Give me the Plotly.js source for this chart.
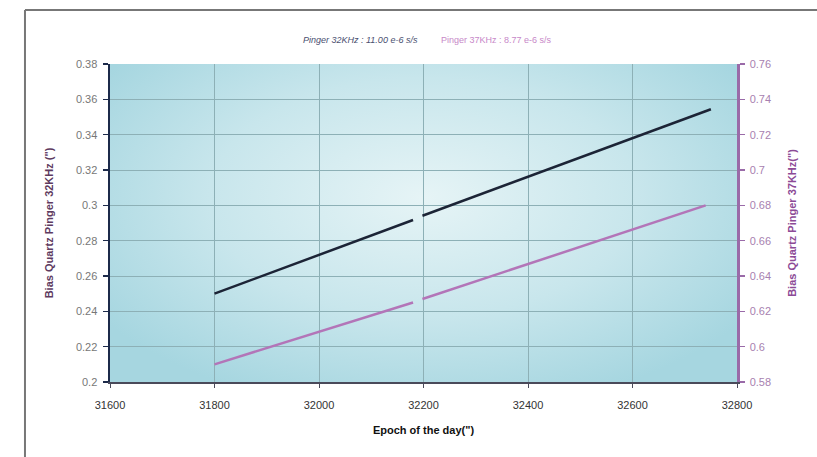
<!DOCTYPE html>
<html>
<head>
<meta charset="utf-8">
<script src="https://cdn.plot.ly/plotly-3.0.1.min.js"></script>
<style>html,body{margin:0;padding:0;background:#fff;}#chart{width:817px;height:457px;}</style>
</head>
<body>
<div id="chart"></div>
<script>
// ---- data ----
const epoch32 = [31800, 32180, null, 32198, 32750];
const bias32  = [0.250, 0.2917, null, 0.2941, 0.3544];
const epoch37 = [31800, 32180, null, 32198, 32740];
const bias37  = [0.590, 0.625, null, 0.627, 0.680];

const xTicks     = [31600, 31800, 32000, 32200, 32400, 32600, 32800];
const leftTicks  = [0.2, 0.22, 0.24, 0.26, 0.28, 0.3, 0.32, 0.34, 0.36, 0.38];
const leftLabels = ['0.2','0.22','0.24','0.26','0.28','0.3','0.32','0.34','0.36','0.38'];
const rightTicks  = [0.58, 0.6, 0.62, 0.64, 0.66, 0.68, 0.7, 0.72, 0.74, 0.76];
const rightLabels = ['0.58','0.6','0.62','0.64','0.66','0.68','0.7','0.72','0.74','0.76'];

const legend32 = 'Pinger 32KHz : 11.00 e-6 s/s';
const legend37 = 'Pinger 37KHz : 8.77 e-6 s/s';
const xTitle = 'Epoch of the day(")';
const yTitle = 'Bias Quartz Pinger 32KHz (")';
const y2Title = 'Bias Quartz Pinger 37KHz(")';

const FONT = 'Liberation Sans, Arial, sans-serif';

const bgSvg = '<svg xmlns="http://www.w3.org/2000/svg" width="600" height="300" preserveAspectRatio="none">' +
  '<defs><radialGradient id="g" cx="0.5" cy="0.42" r="0.62" gradientTransform="translate(0.5 0.42) scale(1 1.1) translate(-0.5 -0.42)">' +
  '<stop offset="0" stop-color="#e6f4f6"/><stop offset="0.55" stop-color="#c8e6ec"/><stop offset="1" stop-color="#a6d6e0"/>' +
  '</radialGradient></defs><rect width="600" height="300" fill="url(#g)"/></svg>';
const bgUri = 'data:image/svg+xml;base64,' + btoa(bgSvg);

const traces = [
  {x: epoch32, y: bias32, type: 'scatter', mode: 'lines', name: legend32,
   line: {color: '#1c2436', width: 2.5}, connectgaps: false, yaxis: 'y'},
  {x: epoch37, y: bias37, type: 'scatter', mode: 'lines', name: legend37,
   line: {color: '#b375b8', width: 2.5}, connectgaps: false, yaxis: 'y2'}
];

const layout = {
  width: 817, height: 457,
  margin: {l: 110, r: 80, t: 64, b: 75},
  paper_bgcolor: '#ffffff',
  plot_bgcolor: '#bfe2e9',
  showlegend: false,
  font: {family: FONT, size: 10, color: '#555'},
  xaxis: {
    range: [31600, 32800], tickmode: 'array', tickvals: xTicks,
    ticktext: xTicks.map(String),
    showgrid: true, gridcolor: '#8db0b6', gridwidth: 1,
    showline: true, linecolor: '#4a4a5a', linewidth: 1.5,
    ticks: 'outside', ticklen: 4, tickcolor: '#4a4a5a',
    ticklabelstandoff: 8,
    tickfont: {size: 11, color: '#333', family: FONT},
    zeroline: false,
    title: {text: xTitle, font: {size: 11, color: '#111', family: FONT, weight: 'bold'}, standoff: 16}
  },
  yaxis: {
    range: [0.2, 0.38], tickmode: 'array', tickvals: leftTicks, ticktext: leftLabels,
    showgrid: true, gridcolor: '#8db0b6', gridwidth: 1,
    showline: true, linecolor: '#1c2a4a', linewidth: 2.5,
    ticks: 'outside', ticklen: 5, tickcolor: '#1c2a4a', tickwidth: 1.5,
    ticklabelstandoff: 3,
    tickfont: {size: 11, color: '#777', family: FONT},
    zeroline: false,
    title: {text: yTitle, font: {size: 11, color: '#5e3a60', family: FONT, weight: 'bold'}, standoff: 20}
  },
  yaxis2: {
    range: [0.58, 0.76], overlaying: 'y', side: 'right',
    tickmode: 'array', tickvals: rightTicks, ticktext: rightLabels,
    showgrid: false, zeroline: false,
    showline: true, linecolor: '#9a6aa8', linewidth: 2.5,
    ticks: 'outside', ticklen: 5, tickcolor: '#9a6aa8', tickwidth: 1.5,
    ticklabelstandoff: 3,
    tickfont: {size: 11, color: '#a77fb0', family: FONT},
    title: {text: y2Title, font: {size: 11, color: '#8c4a96', family: FONT, weight: 'bold'}, standoff: 18}
  },
  images: [{
    source: bgUri, xref: 'paper', yref: 'paper', x: 0, y: 1, sizex: 1, sizey: 1,
    sizing: 'stretch', xanchor: 'left', yanchor: 'top', layer: 'below'
  }],
  annotations: [
    {text: legend32, xref: 'paper', yref: 'paper', x: 0.495, y: 1.075,
     xanchor: 'right', yanchor: 'middle', showarrow: false,
     font: {size: 9, color: '#4a4f70', family: FONT, style: 'italic'}},
    {text: legend37, xref: 'paper', yref: 'paper', x: 0.525, y: 1.075,
     xanchor: 'left', yanchor: 'middle', showarrow: false,
     font: {size: 9, color: '#c788c8', family: FONT}}
  ],
  shapes: [
    {type: 'line', xref: 'paper', yref: 'paper', x0: -0.1356, x1: 1.13, y0: 1.1698, y1: 1.1698,
     line: {color: '#777', width: 2}},
    {type: 'line', xref: 'paper', yref: 'paper', x0: -0.1356, x1: -0.1356, y0: 1.1698, y1: -0.24,
     line: {color: '#777', width: 2}}
  ]
};

Plotly.newPlot('chart', traces, layout, {displayModeBar: false, staticPlot: true});
</script>
</body>
</html>
